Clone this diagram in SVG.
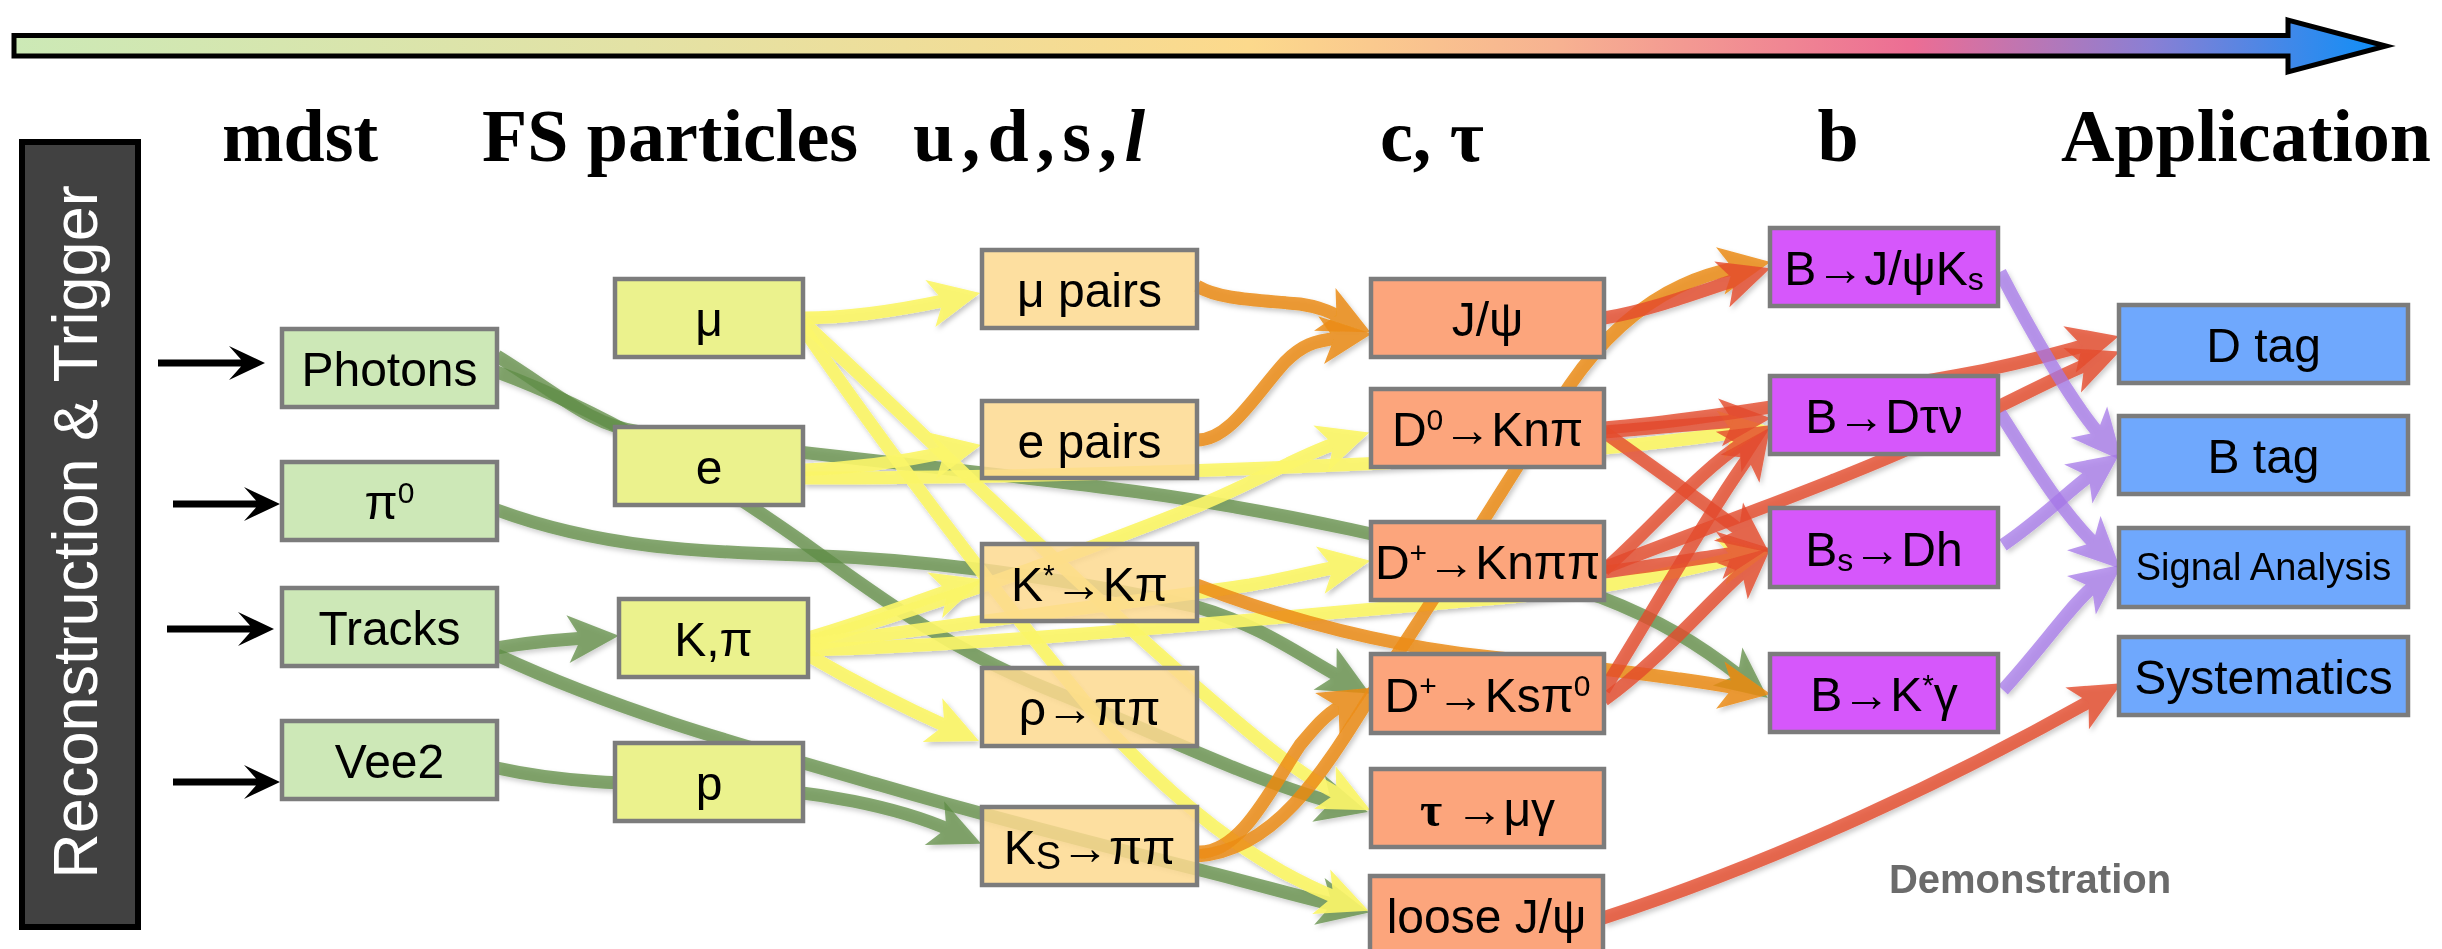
<svg xmlns="http://www.w3.org/2000/svg" width="2442" height="949" viewBox="0 0 2442 949">
  <defs>
    <linearGradient id="flow" gradientUnits="userSpaceOnUse" x1="14" y1="0" x2="2388" y2="0">
      <stop offset="0" stop-color="#cce9b6"/>
      <stop offset="0.26" stop-color="#e3e2a5"/>
      <stop offset="0.52" stop-color="#fcd98c"/>
      <stop offset="0.65" stop-color="#f7b291"/>
      <stop offset="0.80" stop-color="#ec6d94"/>
      <stop offset="0.90" stop-color="#8a7fd4"/>
      <stop offset="1" stop-color="#0b8ff8"/>
    </linearGradient>
    <filter id="soft" x="-5%" y="-5%" width="110%" height="110%">
      <feDropShadow dx="2" dy="3" stdDeviation="2.5" flood-color="#000" flood-opacity="0.25"/>
    </filter>
    <!-- swept arrowheads; the stroke ends just in front of the notch -->
    <marker id="ah-g" markerUnits="userSpaceOnUse" markerWidth="10" markerHeight="10" refX="4" refY="0" orient="auto" style="overflow:visible">
      <path d="M38,0 L-13,-24 L0,0 L-13,24 Z" fill="#5f8d45"/>
    </marker>
    <marker id="ah-y" markerUnits="userSpaceOnUse" markerWidth="10" markerHeight="10" refX="4" refY="0" orient="auto" style="overflow:visible">
      <path d="M38,0 L-13,-24 L0,0 L-13,24 Z" fill="#fbf66a"/>
    </marker>
    <marker id="ah-o" markerUnits="userSpaceOnUse" markerWidth="10" markerHeight="10" refX="4" refY="0" orient="auto" style="overflow:visible">
      <path d="M38,0 L-13,-24 L0,0 L-13,24 Z" fill="#ec8c14"/>
    </marker>
    <marker id="ah-r" markerUnits="userSpaceOnUse" markerWidth="10" markerHeight="10" refX="4" refY="0" orient="auto" style="overflow:visible">
      <path d="M38,0 L-13,-24 L0,0 L-13,24 Z" fill="#e44a2c"/>
    </marker>
    <marker id="ah-p" markerUnits="userSpaceOnUse" markerWidth="10" markerHeight="10" refX="4" refY="0" orient="auto" style="overflow:visible">
      <path d="M38,0 L-13,-24 L0,0 L-13,24 Z" fill="#a678e8"/>
    </marker>
    <path id="inarrow" d="M0,0 L-36,-17 L-24,-3.5 L-107,-3.5 L-107,3.5 L-24,3.5 L-36,17 Z" fill="#000"/>
    <style>
      .hdr { font-family: "Liberation Serif", "DejaVu Serif", serif; font-weight: bold; font-size: 74px; text-anchor: middle; fill: #000; }
      .lbl { font-family: "Liberation Sans", Arial, sans-serif; font-size: 48px; text-anchor: middle; fill: #000; }
      .lbl.small { font-size: 38px; }
      .box { stroke: #7c7c7c; stroke-width: 4.5; }
      .mdst { fill: #cde8b7; }
      .fs { fill: #ebf28d; }
      .uds { fill: #fdd98f; fill-opacity: 0.85; }
      .ct { fill: #fca57c; }
      .bm { fill: #d657fb; }
      .app { fill: #6fa8fd; }
      .cn path { fill: none; stroke-width: 13; stroke-linecap: butt; }
      .cn .g { stroke: #5f8d45; opacity: 0.75; marker-end: url(#ah-g); }
      .cn .y { stroke: #fbf66a; opacity: 0.92; marker-end: url(#ah-y); }
      .cn .o { stroke: #ec8c14; opacity: 0.85; marker-end: url(#ah-o); }
      .cn .r { stroke: #e44a2c; opacity: 0.8; marker-end: url(#ah-r); }
      .cn .p { stroke: #a678e8; opacity: 0.75; marker-end: url(#ah-p); }
      .sup { font-size: 30px; }
      .sub { font-size: 32px; }
    </style>
  </defs>

  <rect width="2442" height="949" fill="#fff"/>

  <!-- analysis-chain arrow across the top -->
  <path d="M14,35.5 L2288,35.5 L2288,20 L2386,46 L2288,72 L2288,56 L14,56 Z" fill="url(#flow)" stroke="#000" stroke-width="5" stroke-linejoin="miter"/>

  <!-- column headings -->
  <g id="headings">
    <text class="hdr" x="300" y="161">mdst</text>
    <text class="hdr" x="670" y="161">FS particles</text>
    <text class="hdr" x="1029" y="161" textLength="232" lengthAdjust="spacing">u,d,s,<tspan font-style="italic">l</tspan></text>
    <text class="hdr" x="1432" y="161">c, τ</text>
    <text class="hdr" x="1838" y="161">b</text>
    <text class="hdr" x="2246" y="161">Application</text>
  </g>

  <!-- vertical banner -->
  <g id="reco-trigger">
    <rect x="22" y="142" width="116" height="785" fill="#414141" stroke="#000" stroke-width="6"/>
    <text transform="translate(97,532) rotate(-90)" font-family="Liberation Sans, Arial, sans-serif" font-size="63" fill="#fff" text-anchor="middle">Reconstruction &amp; Trigger</text>
  </g>

  <!-- inputs from reconstruction -->
  <g id="inputs">
    <use href="#inarrow" x="265" y="363"/>
    <use href="#inarrow" x="280" y="504"/>
    <use href="#inarrow" x="274" y="629"/>
    <use href="#inarrow" x="280" y="782"/>
  </g>

  <!-- connectors -->
  <g id="connectors" class="cn" filter="url(#soft)">
    <!-- mdst -> FS and beyond -->
    <path class="g" d="M497,356 C560,395 590,425 640,432 C720,445 900,462 1100,487 C1250,505 1450,545 1600,597 C1660,620 1700,645 1741,677"/>
    <path class="g" d="M497,372 C600,410 700,470 800,540 C880,598 950,650 1050,690 C1150,730 1250,780 1335,803"/>
    <path class="g" d="M497,510 C600,548 700,552 800,555 C950,560 1100,585 1197,607 C1260,625 1300,655 1340,677"/>
    <path class="g" d="M497,648 C530,642 555,640 585,638"/>
    <path class="g" d="M497,655 C620,712 740,745 880,785 C1000,820 1120,850 1200,870 C1260,885 1300,897 1336,905"/>
    <path class="g" d="M497,768 C560,782 620,784 720,786 C820,790 900,808 950,830"/>

    <!-- FS -> u,d,s and beyond -->
    <path class="y" d="M803,318 C850,318 900,310 947,300"/>
    <path class="y" d="M803,322 C900,410 1050,560 1200,690 C1260,742 1300,775 1340,795"/>
    <path class="y" d="M803,328 C880,440 1000,600 1100,720 C1200,830 1280,875 1337,898"/>
    <path class="y" d="M803,470 C860,468 910,460 948,452"/>
    <path class="y" d="M803,478 C1000,478 1250,470 1400,462 C1550,455 1650,445 1737,432"/>
    <path class="y" d="M808,638 C870,620 920,600 951,590"/>
    <path class="y" d="M808,642 C950,600 1100,545 1200,505 C1260,480 1300,455 1337,443"/>
    <path class="y" d="M808,645 C950,625 1150,600 1250,585 C1290,578 1310,572 1337,567"/>
    <path class="y" d="M808,650 C1000,645 1300,615 1500,598 C1620,588 1680,570 1737,558"/>
    <path class="y" d="M808,655 C860,685 910,710 948,727"/>

    <!-- u,d,s -> c,tau and b -->
    <path class="o" d="M1197,286 C1220,300 1260,300 1300,304 C1320,307 1330,312 1340,317"/>
    <path class="o" d="M1197,440 C1230,440 1255,395 1285,362 C1302,345 1314,341 1338,338"/>
    <path class="o" d="M1197,852 C1240,855 1270,790 1300,745 C1315,727 1325,715 1342,705"/>
    <path class="o" d="M1197,856 C1290,850 1340,740 1400,650 C1460,560 1520,460 1570,385 C1615,320 1670,280 1737,268"/>
    <path class="o" d="M1197,585 C1300,625 1400,648 1500,658 C1600,668 1680,678 1737,688"/>

    <!-- c,tau -> b and application -->
    <path class="r" d="M1604,318 C1650,310 1690,295 1738,279"/>
    <path class="r" d="M1604,432 C1650,428 1700,424 1737,421"/>
    <path class="r" d="M1604,432 C1650,465 1700,500 1742,532"/>
    <path class="r" d="M1604,570 C1650,530 1700,470 1743,443"/>
    <path class="r" d="M1604,572 C1660,565 1700,558 1736,553"/>
    <path class="r" d="M1604,568 C1700,530 1850,478 1950,430 C2020,397 2060,375 2088,364"/>
    <path class="r" d="M1604,428 C1700,420 1850,395 1960,375 C2020,364 2060,352 2086,345"/>
    <path class="r" d="M1604,690 C1660,600 1710,510 1750,455"/>
    <path class="r" d="M1604,700 C1660,660 1710,600 1745,570"/>
    <path class="r" d="M1603,918 C1780,860 1950,780 2092,700"/>

    <!-- b -> application -->
    <path class="p" d="M2000,272 C2030,330 2070,400 2100,435"/>
    <path class="p" d="M2000,413 C2030,460 2060,510 2096,545"/>
    <path class="p" d="M2003,545 C2040,520 2070,490 2092,474"/>
    <path class="p" d="M2003,690 C2040,650 2075,600 2095,585"/>
  </g>

  <!-- mdst objects -->
  <g id="n-photons"><rect class="box mdst" x="282" y="329" width="215" height="78"/><text class="lbl" x="389.5" y="386">Photons</text></g>
  <g id="n-pi0"><rect class="box mdst" x="282" y="462" width="215" height="78"/><text class="lbl" x="389.5" y="519">π<tspan class="sup" dy="-16">0</tspan></text></g>
  <g id="n-tracks"><rect class="box mdst" x="282" y="588" width="215" height="78"/><text class="lbl" x="389.5" y="645">Tracks</text></g>
  <g id="n-vee2"><rect class="box mdst" x="282" y="721" width="215" height="78"/><text class="lbl" x="389.5" y="778">Vee2</text></g>

  <!-- final-state particles -->
  <g id="n-mu"><rect class="box fs" x="615" y="279" width="188" height="78"/><text class="lbl" x="709" y="336">μ</text></g>
  <g id="n-e"><rect class="box fs" x="615" y="427" width="188" height="78"/><text class="lbl" x="709" y="484">e</text></g>
  <g id="n-kpi"><rect class="box fs" x="619" y="599" width="189" height="78"/><text class="lbl" x="713.5" y="656">K,π</text></g>
  <g id="n-p"><rect class="box fs" x="615" y="743" width="188" height="78"/><text class="lbl" x="709" y="800">p</text></g>

  <!-- light-quark / lepton combinations -->
  <g id="n-mupairs"><rect class="box uds" x="982" y="250" width="215" height="78"/><text class="lbl" x="1089.5" y="307">μ pairs</text></g>
  <g id="n-epairs"><rect class="box uds" x="982" y="401" width="215" height="77"/><text class="lbl" x="1089.5" y="458">e pairs</text></g>
  <g id="n-kstar"><rect class="box uds" x="982" y="544" width="215" height="77"/><text class="lbl" x="1089.5" y="601">K<tspan class="sup" dy="-16">*</tspan><tspan dy="16">→Kπ</tspan></text></g>
  <g id="n-rho"><rect class="box uds" x="982" y="668" width="215" height="78"/><text class="lbl" x="1089.5" y="725">ρ→ππ</text></g>
  <g id="n-ks"><rect class="box uds" x="982" y="807" width="215" height="78"/><text class="lbl" x="1089.5" y="864">K<tspan font-size="38" dy="5">S</tspan><tspan dy="-5">→ππ</tspan></text></g>

  <!-- charm and tau -->
  <g id="n-jpsi"><rect class="box ct" x="1371" y="279" width="233" height="78"/><text class="lbl" x="1487.5" y="336">J/ψ</text></g>
  <g id="n-d0"><rect class="box ct" x="1371" y="389" width="233" height="78"/><text class="lbl" x="1487.5" y="446">D<tspan class="sup" dy="-16">0</tspan><tspan dy="16">→Knπ</tspan></text></g>
  <g id="n-dp-knpipi"><rect class="box ct" x="1371" y="522" width="233" height="78"/><text class="lbl" x="1487.5" y="579">D<tspan class="sup" dy="-16">+</tspan><tspan dy="16">→Knππ</tspan></text></g>
  <g id="n-dp-kspi0"><rect class="box ct" x="1371" y="654" width="233" height="79"/><text class="lbl" x="1487.5" y="712">D<tspan class="sup" dy="-16">+</tspan><tspan dy="16">→Ksπ</tspan><tspan class="sup" dy="-16">0</tspan></text></g>
  <g id="n-tau"><rect class="box ct" x="1371" y="769" width="233" height="78"/><text class="lbl" x="1487.5" y="826"><tspan font-family="Liberation Serif, serif" font-weight="bold">τ</tspan> →μγ</text></g>
  <g id="n-loosejpsi"><rect class="box ct" x="1370" y="876" width="233" height="78"/><text class="lbl" x="1486.5" y="933">loose J/ψ</text></g>

  <!-- B decays -->
  <g id="n-b-jpsiks"><rect class="box bm" x="1770" y="228" width="228" height="78"/><text class="lbl" x="1884" y="285">B→J/ψK<tspan class="sub" dy="5">s</tspan></text></g>
  <g id="n-b-dtaunu"><rect class="box bm" x="1770" y="376" width="228" height="78"/><text class="lbl" x="1884" y="433">B→Dτν</text></g>
  <g id="n-bs-dh"><rect class="box bm" x="1770" y="508" width="228" height="79"/><text class="lbl" x="1884" y="566">B<tspan class="sub" dy="5">s</tspan><tspan dy="-5">→Dh</tspan></text></g>
  <g id="n-b-kstargamma"><rect class="box bm" x="1770" y="654" width="228" height="78"/><text class="lbl" x="1884" y="711">B→K<tspan class="sup" dy="-16">*</tspan><tspan dy="16">γ</tspan></text></g>

  <!-- applications -->
  <g id="n-dtag"><rect class="box app" x="2119" y="305" width="289" height="78"/><text class="lbl" x="2263.5" y="362">D tag</text></g>
  <g id="n-btag"><rect class="box app" x="2119" y="416" width="289" height="78"/><text class="lbl" x="2263.5" y="473">B tag</text></g>
  <g id="n-signal"><rect class="box app" x="2119" y="528" width="289" height="79"/><text class="lbl small" x="2263.5" y="580">Signal Analysis</text></g>
  <g id="n-syst"><rect class="box app" x="2119" y="637" width="289" height="78"/><text class="lbl" x="2263.5" y="694">Systematics</text></g>

  <text x="2030" y="893" font-family="Liberation Sans, Arial, sans-serif" font-weight="bold" font-size="40" fill="#6b6b6b" text-anchor="middle">Demonstration</text>
</svg>
